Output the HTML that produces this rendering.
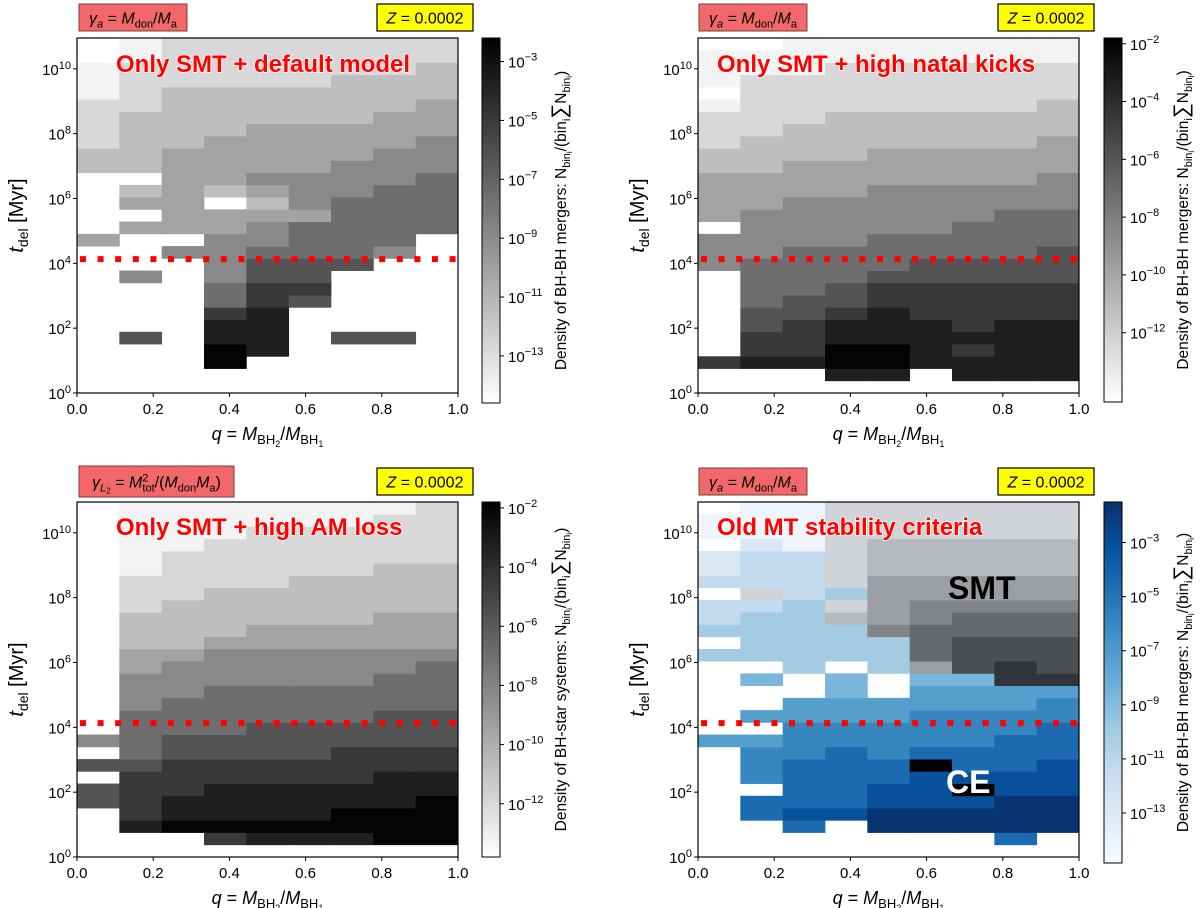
<!DOCTYPE html>
<html><head><meta charset="utf-8"><title>Delay time vs mass ratio density maps</title>
<style>
html,body{margin:0;padding:0;background:#fff;}
svg{display:block;font-family:"Liberation Sans","DejaVu Sans",sans-serif;}
</style></head>
<body>
<svg id="fig" width="1200" height="908" viewBox="0 0 1200 908" xmlns="http://www.w3.org/2000/svg"></svg>
<script>
// ---------- data ----------
const qEdges = [0, 1/9, 2/9, 3/9, 4/9, 5/9, 6/9, 7/9, 8/9, 1];
const logBinWidth = 0.3776;
const nYBins = 29;
const yLogMax = 10.95;
const xTicks = [0, 0.2, 0.4, 0.6, 0.8, 1.0];
const xTickLabels = ["0.0", "0.2", "0.4", "0.6", "0.8", "1.0"];
const yTicksExp = [0, 2, 4, 6, 8, 10];
const delayLineLog = 4.13;
const densityDefault = [
".01111111",".01111111","011111112","011111222","012222222","112222223","122222233",
"122233333","122333334","223333344","223333444","..3344445",".23234455",".33.24555",
"..3333555",".33345555","3..44555.","..445554.","...4666..",".4.466...","...577...",
"...576...","...78....","...88....",".6.88.66.","...98....","...9.....",".........","........."];
const densityKicks = [
"..0000000","000000000","000111111","011111111",".11111111","011111112","111222222",
"112222222","122222223","222233333","223333333","333333334","333344444","334444444",
"344444455",".44444555","444455555","445555556","455556666",".55566666",".55677777",
".56677777",".66787777",".67888788",".77888888",".77998788","788998888","...88.888","........."];
const densityAMLoss = [
".00000001",".00000011",".00011111",".00111111",".01111111",".01111122",".11112222",
".11222222",".12222222",".22222233",".22233333",".22333333",".33444444",".34444445",
".44444455",".44555555",".45555555",".55555566",".55566666","456666666",".56666777",
"667777777",".77777788","677888888","678888889",".78888999",".89999999","...788899","........."];
const densityOldMT = [
".00bbbbbb","000bbbbbb","000bbbbbb",".10bccccc","122bccccc","122bccccc","222bddddd",
".b23ddddd","223bdeeee","233cdefff","3333effff",".3333fggg","33333fggg","..3.3dghg",
".4.4.44hh","...4.5555","..5555556",".55556666","..6666667","556666677",".66767777",
".6777j778",".67778888","..7788j88",".77788899",".78899999","..7.99999",".......7.","........."];
const cbRange1 = [-14.6, -2.2], cbTicks1 = [-3, -5, -7, -9, -11, -13];
const cbRange2 = [-14.4, -1.8], cbTicks2 = [-2, -4, -6, -8, -10, -12];
const cbRange3 = [-13.8, -1.8], cbTicks3 = [-2, -4, -6, -8, -10, -12];
const cbRange4 = [-14.85, -1.5], cbTicks4 = [-3, -5, -7, -9, -11, -13];

// ---------- layout ----------
const NS = "http://www.w3.org/2000/svg";
const svg = document.getElementById("fig");
function mk(tag, attrs, parent) {
  const e = document.createElementNS(NS, tag);
  for (const k in attrs) e.setAttribute(k, attrs[k]);
  (parent || svg).appendChild(e);
  return e;
}
const panels = [
  {id:"p1", ax:[77,458,38,393], cb:[482,500,38,403], range:cbRange1, ticks:cbTicks1, data:densityDefault,
   title:"Only SMT + default model", titleX:116, titleY:72, gamma:1, box:[79,4,108,27], zbox:[377,4,96,27],
   cbLabel:"BH-BH mergers", blue:false},
  {id:"p2", ax:[698,1079,38,393], cb:[1104,1122,38,402], range:cbRange2, ticks:cbTicks2, data:densityKicks,
   title:"Only SMT + high natal kicks", titleX:717, titleY:72, gamma:1, box:[699,4,108,27], zbox:[998,4,96,27],
   cbLabel:"BH-BH mergers", blue:false},
  {id:"p3", ax:[77,458,502,857], cb:[482,500,502,857], range:cbRange3, ticks:cbTicks3, data:densityAMLoss,
   title:"Only SMT + high AM loss", titleX:116, titleY:535, gamma:2, box:[79,466,155,31], zbox:[377,468,96,27],
   cbLabel:"BH-star systems", blue:false},
  {id:"p4", ax:[698,1079,502,857], cb:[1104,1122,502,863], range:cbRange4, ticks:cbTicks4, data:densityOldMT,
   title:"Old MT stability criteria", titleX:717, titleY:535, gamma:1, box:[699,468,108,27], zbox:[998,468,96,27],
   cbLabel:"BH-BH mergers", blue:true}
];
const bluesStops = ["#f7fbff","#deebf7","#c6dbef","#9ecae1","#6baed6","#4292c6","#2171b5","#08519c","#08306b"];
function hex2rgb(h){return [parseInt(h.substr(1,2),16),parseInt(h.substr(3,2),16),parseInt(h.substr(5,2),16)];}
function blues(t){
  t=Math.max(0,Math.min(1,t)); const s=t*8, i=Math.min(7,Math.floor(s)), f=s-i;
  const a=hex2rgb(bluesStops[i]), b=hex2rgb(bluesStops[i+1]);
  return "rgb("+a.map((v,k)=>Math.round(v+(b[k]-v)*f)).join(",")+")";
}
function greys(t, tint){
  t=Math.max(0,Math.min(1,t)); const g=Math.round(255*(1-t));
  if (tint) return "rgb("+Math.max(0,g-8)+","+Math.max(0,g-4)+","+Math.min(255,g)+")";
  return "rgb("+g+","+g+","+g+")";
}
function levelToLog(level, range){ return range[0] + (level+0.45)/9.6*(range[1]-range[0]); }

panels.forEach(p => {
  const [x0,x1,y0,y1] = p.ax;
  const xs = q => x0 + q*(x1-x0);
  const ys = lg => y1 - lg/yLogMax*(y1-y0);
  const g = mk("g", { });
  const hm = mk("g", { }, g);
  const rows = p.data.slice().reverse();
  rows.forEach((row, r) => {
    for (let c = 0; c < 9; c++) {
      const ch = row[c];
      if (!ch || ch === ".") continue;
      let color;
      const code = ch.charCodeAt(0);
      if (code >= 97) {
        const lv = code - 97;
        const v = levelToLog(lv, p.range);
        color = greys((v - p.range[0])/(p.range[1]-p.range[0]), true);
      } else {
        const lv = code - 48;
        const v = levelToLog(lv, p.range);
        const t = (v - p.range[0])/(p.range[1]-p.range[0]);
        color = p.blue ? blues(t) : greys(t, false);
      }
      const ya = ys(r*logBinWidth), yb = ys((r+1)*logBinWidth);
      const rc = mk("rect", {x: xs(qEdges[c]).toFixed(2), y: yb.toFixed(2),
        width: (xs(qEdges[c+1])-xs(qEdges[c])+0.4).toFixed(2), height: (ya-yb+0.4).toFixed(2), fill: color}, hm);
      
      
    }
  });
  const dl = mk("line", {x1:x0+3, x2:x1, y1:ys(delayLineLog), y2:ys(delayLineLog), stroke:"#ff0000",
    "stroke-width":6, "stroke-dasharray":"6 11.6"}, g);
  
  
  const fr = mk("rect", {x:x0, y:y0, width:x1-x0, height:y1-y0, fill:"none", stroke:"#000", "stroke-width":1.2}, g);
  
  
  xTicks.forEach((q,i) => {
    mk("line", {x1:xs(q), x2:xs(q), y1:y1, y2:y1+4, stroke:"#000", "stroke-width":1}, g);
    const t = mk("text", {x:xs(q), y:y1+21, "font-size":15, "text-anchor":"middle", fill:"#000"}, g);
    t.textContent = xTickLabels[i];
    
    
  });
  yTicksExp.forEach(e => {
    const y = ys(e);
    mk("line", {x1:x0-4, x2:x0, y1:y, y2:y, stroke:"#000", "stroke-width":1}, g);
    const t = mk("text", {x:x0-6, y:y+6, "font-size":15, "text-anchor":"end", fill:"#000"}, g);
    t.innerHTML = '10<tspan dy="-6" font-size="11">'+e+'</tspan>';
    
    
  });
  const xt = mk("text", {x:(x0+x1)/2, y:y1+47, "font-size":18, "text-anchor":"middle", fill:"#000"}, g);
  xt.innerHTML = '<tspan font-style="italic">q</tspan> = <tspan font-style="italic">M</tspan><tspan font-size="13" dy="4">BH</tspan><tspan font-size="9" dy="3">2</tspan><tspan dy="-7">/</tspan><tspan font-style="italic">M</tspan><tspan font-size="13" dy="4">BH</tspan><tspan font-size="9" dy="3">1</tspan>';
  
  
  const yc = (y0+y1)/2, yx = x0 - 54;
  const yt = mk("text", {x:yx, y:yc, "font-size":20, "text-anchor":"middle", fill:"#000",
    transform:"rotate(-90 "+yx+" "+yc+")"}, g);
  yt.innerHTML = '<tspan font-style="italic">t</tspan><tspan font-size="14" dy="5">del</tspan><tspan dy="-5"> [Myr]</tspan>';
  
  
  const tt = mk("text", {x:p.titleX, y:p.titleY, "font-size":24, "font-weight":"bold", fill:"#ff0000",
    stroke:"#ffffff", "stroke-width":1.5, "paint-order":"stroke"}, g);
  tt.textContent = p.title;
  
  
  if (p.blue) {
    const s1 = mk("text", {x:948, y:599, "font-size":32, "font-weight":"bold", fill:"#000"}, g);
    s1.textContent = "SMT";
    
    
    const s2 = mk("text", {x:946, y:793, "font-size":32, "font-weight":"bold", fill:"#fff"}, g);
    s2.textContent = "CE";
    
    
  }
  const [bx,by,bw,bh] = p.box;
  const rb = mk("rect", {x:bx, y:by, width:bw, height:bh, fill:"#f26868", stroke:"#7a3a3a", "stroke-width":1}, g);
  
  
  const gt = mk("text", {x:bx+bw/2, y:by+bh/2+6, "font-size":16, "text-anchor":"middle", fill:"#000"}, g);
  if (p.gamma === 1) {
    gt.innerHTML = '<tspan font-style="italic">γ</tspan><tspan font-size="11" dy="4" font-style="italic">a</tspan><tspan dy="-4"> = </tspan><tspan font-style="italic">M</tspan><tspan font-size="11" dy="4">don</tspan><tspan dy="-4">/</tspan><tspan font-style="italic">M</tspan><tspan font-size="11" dy="4">a</tspan>';
  } else {
    gt.innerHTML = '<tspan font-style="italic">γ</tspan><tspan font-size="11" dy="4" font-style="italic">L</tspan><tspan font-size="8" dy="2">2</tspan><tspan dy="-6"> = </tspan><tspan font-style="italic">M</tspan><tspan font-size="11" dy="-6">2</tspan><tspan font-size="11" dx="-6" dy="10">tot</tspan><tspan dy="-4">/(</tspan><tspan font-style="italic">M</tspan><tspan font-size="11" dy="4">don</tspan><tspan font-style="italic" dy="-4">M</tspan><tspan font-size="11" dy="4">a</tspan><tspan dy="-4">)</tspan>';
  }
  
  
  const [zx,zy,zw,zh] = p.zbox;
  const zb = mk("rect", {x:zx, y:zy, width:zw, height:zh, fill:"#ffff00", stroke:"#000", "stroke-width":1.2}, g);
  
  
  const zt = mk("text", {x:zx+zw/2, y:zy+zh/2+6, "font-size":16, "text-anchor":"middle", fill:"#000"}, g);
  zt.innerHTML = '<tspan font-style="italic">Z</tspan> = 0.0002';
  
  
  const [cx0,cx1,cy0,cy1] = p.cb;
  const cbg = mk("g", { }, g);
  const gid = p.id+"-grad";
  const grad = mk("linearGradient", {id:gid, x1:0, y1:1, x2:0, y2:0}, mk("defs", {}, cbg));
  for (let k = 0; k <= 16; k++) {
    const t = k/16;
    mk("stop", {offset:t, "stop-color": p.blue ? blues(t) : greys(t,false)}, grad);
  }
  mk("rect", {x:cx0, y:cy0, width:cx1-cx0, height:cy1-cy0, fill:"url(#"+gid+")", stroke:"#000", "stroke-width":1}, cbg);
  const cys = v => cy1 - (v - p.range[0])/(p.range[1]-p.range[0])*(cy1-cy0);
  p.ticks.forEach(e => {
    const y = cys(e);
    mk("line", {x1:cx1, x2:cx1+4, y1:y, y2:y, stroke:"#000", "stroke-width":1}, cbg);
    const t = mk("text", {x:cx1+8, y:y+6, "font-size":15, fill:"#000"}, cbg);
    t.innerHTML = '10<tspan dy="-7" font-size="11">\u2212'+Math.abs(e)+'</tspan>';
    
    
  });
  const lx = cx1 + 66, ly = (cy0+cy1)/2;
  const cl = mk("text", {x:lx, y:ly, "font-size":15.5, "text-anchor":"middle", fill:"#000",
    transform:"rotate(-90 "+lx+" "+ly+")"}, cbg);
  cl.innerHTML = 'Density of '+p.cbLabel+': N<tspan font-size="11" dy="4">bin</tspan><tspan font-size="8" dy="2">i</tspan><tspan dy="-6">/(bin</tspan><tspan font-size="11" dy="4">i</tspan><tspan dy="-4" font-size="21">∑</tspan><tspan>N</tspan><tspan font-size="11" dy="4">bin</tspan><tspan font-size="8" dy="2">i</tspan><tspan dy="-6">)</tspan>';
  
  
});
</script>
</body></html>
